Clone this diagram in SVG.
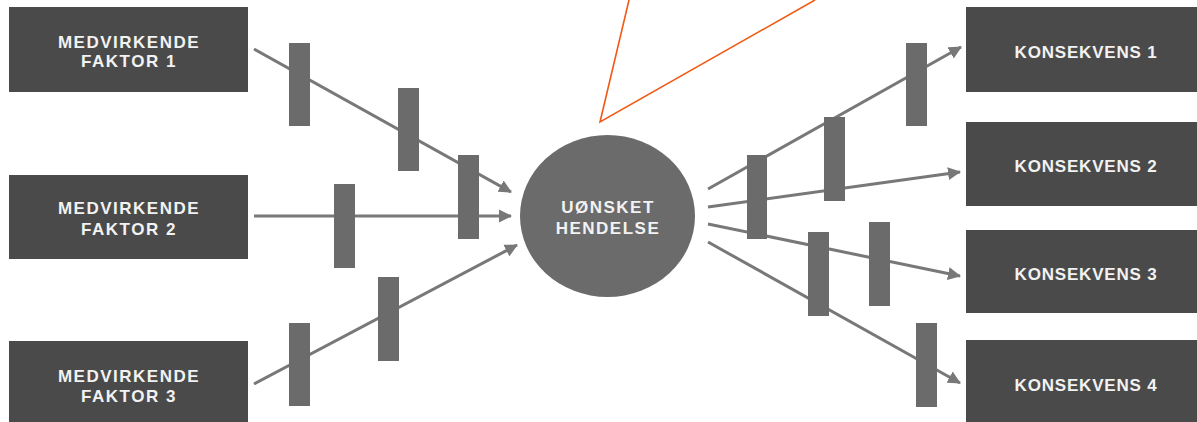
<svg xmlns="http://www.w3.org/2000/svg" width="1197" height="422" viewBox="0 0 1197 422">
<style>
.box{fill:#4a4a4a}
.bar{fill:#6b6b6b}
.lbl{font-family:"Liberation Sans",Arial,sans-serif;font-weight:bold;font-size:17px;fill:#f2f2f2;text-anchor:middle;letter-spacing:1.5px}
.rl{letter-spacing:0.8px}
.conn line{stroke:#787878;stroke-width:3;fill:none}
.arr{marker-end:url(#ah)}
.orange{stroke:#f05a14;stroke-width:1.6;fill:none}
</style>
<defs>
<marker id="ah" markerUnits="userSpaceOnUse" markerWidth="14" markerHeight="14" refX="12" refY="6.5" orient="auto" viewBox="0 0 14 13">
<path d="M0,0 L13,6.5 L0,13 Z" fill="#787878"/>
</marker>
</defs>
<rect width="1197" height="422" fill="#ffffff"/>

<polyline class="orange" points="629,0 600,122 815,0"/>

<g id="connectors" class="conn">
<line class="arr" x1="254" y1="49" x2="511" y2="192"/>
<line class="arr" x1="254" y1="216" x2="511" y2="216"/>
<line class="arr" x1="254" y1="384" x2="517" y2="245"/>
<line class="arr" x1="708" y1="189" x2="961" y2="47"/>
<line class="arr" x1="708" y1="207" x2="960" y2="172"/>
<line class="arr" x1="708" y1="224" x2="960" y2="276"/>
<line class="arr" x1="708" y1="242" x2="960" y2="383"/>
</g>

<g id="barriers">
<rect class="bar" x="289" y="43" width="21" height="83"/>
<rect class="bar" x="398" y="88" width="21" height="83"/>
<rect class="bar" x="458" y="155" width="21" height="84"/>
<rect class="bar" x="334" y="184" width="21" height="84"/>
<rect class="bar" x="289" y="323" width="21" height="83"/>
<rect class="bar" x="378" y="277" width="21" height="84"/>
<rect class="bar" x="747" y="155" width="20" height="84"/>
<rect class="bar" x="824" y="117" width="21" height="84"/>
<rect class="bar" x="906" y="43" width="21" height="83"/>
<rect class="bar" x="808" y="232" width="21" height="84"/>
<rect class="bar" x="869" y="222" width="21" height="84"/>
<rect class="bar" x="916" y="323" width="21" height="84"/>
</g>

<g id="faktor1">
<rect class="box" x="9" y="7" width="239" height="85"/>
<text class="lbl" x="129" y="48">MEDVIRKENDE</text>
<text class="lbl" x="129" y="67">FAKTOR 1</text>
</g>
<g id="faktor2">
<rect class="box" x="9" y="175" width="239" height="84"/>
<text class="lbl" x="129" y="214">MEDVIRKENDE</text>
<text class="lbl" x="129" y="235">FAKTOR 2</text>
</g>
<g id="faktor3">
<rect class="box" x="9" y="341" width="239" height="90"/>
<text class="lbl" x="129" y="382">MEDVIRKENDE</text>
<text class="lbl" x="129" y="402">FAKTOR 3</text>
</g>

<g id="hendelse">
<ellipse cx="607.5" cy="216" rx="87.5" ry="81" fill="#6b6b6b"/>
<text class="lbl" x="608" y="213">UØNSKET</text>
<text class="lbl" x="608" y="234">HENDELSE</text>
</g>

<g id="konsekvens1">
<rect class="box" x="966" y="7" width="240" height="85"/>
<text class="lbl rl" x="1086" y="58">KONSEKVENS 1</text>
</g>
<g id="konsekvens2">
<rect class="box" x="966" y="122" width="240" height="84"/>
<text class="lbl rl" x="1086" y="172">KONSEKVENS 2</text>
</g>
<g id="konsekvens3">
<rect class="box" x="966" y="230" width="240" height="83"/>
<text class="lbl rl" x="1086" y="280">KONSEKVENS 3</text>
</g>
<g id="konsekvens4">
<rect class="box" x="966" y="340" width="240" height="90"/>
<text class="lbl rl" x="1086" y="391">KONSEKVENS 4</text>
</g>
</svg>
